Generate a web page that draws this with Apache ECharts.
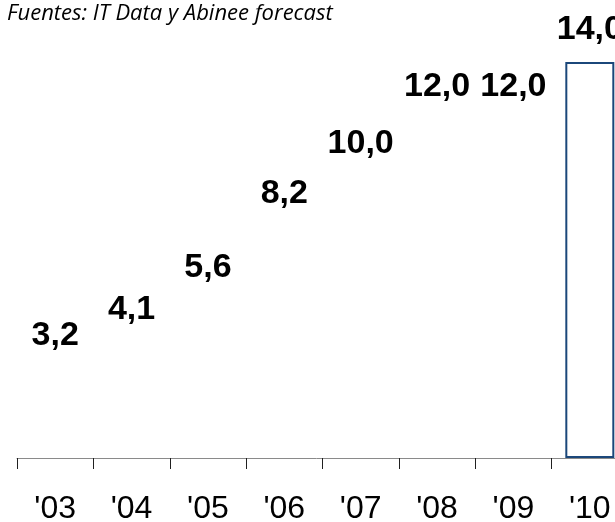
<!DOCTYPE html>
<html><head><meta charset="utf-8">
<script src="https://cdn.jsdelivr.net/npm/echarts@6/dist/echarts.min.js"></script>
<style>html,body{margin:0;padding:0;background:#fff}#c{width:615px;height:522px}</style>
</head><body><div id="c"></div>
<script>
var categories = ["'03","'04","'05","'06","'07","'08","'09","'10"];
var values = [3.2, 4.1, 5.6, 8.2, 10.0, 12.0, 12.0, 14.0];
var outlined = [false, false, false, false, false, false, false, true];
var subtitle = "Fuentes: IT Data y Abinee forecast";

var chart = echarts.init(document.getElementById('c'), null, {renderer: 'canvas'});
chart.setOption({
  animation: false,
  backgroundColor: '#fff',
  title: {
    text: subtitle, left: 7, top: 3, padding: 0,
    textStyle: {fontFamily: 'Open Sans', fontStyle: 'italic', fontWeight: 'normal', fontSize: 22, color: '#000'}
  },
  grid: {left: 17, top: 62, width: 611, height: 396, outerBoundsMode: 'none', containLabel: false},
  xAxis: {
    type: 'category', data: categories,
    axisLine: {show: true, lineStyle: {color: '#8a8a8a', width: 1}},
    axisTick: {show: true, length: 11, lineStyle: {color: '#202020', width: 1}},
    axisLabel: {show: true, margin: 35, fontFamily: 'Liberation Sans', fontSize: 32, color: '#000'}
  },
  yAxis: {type: 'value', min: 0, max: 14, show: false, splitLine: {show: false}},
  series: [{
    type: 'bar',
    barWidth: 49,
    data: values.map(function (v, i) {
      return {
        value: v,
        itemStyle: outlined[i]
          ? {color: '#fff', borderColor: '#1B477A', borderWidth: 2}
          : {color: '#fff', borderWidth: 0}
      };
    }),
    label: {
      show: true, position: 'top', distance: 15,
      fontFamily: 'Liberation Sans', fontWeight: 'bold', fontSize: 34, color: '#000',
      formatter: function (p) { return p.value.toFixed(1).replace('.', ','); }
    }
  }]
});
</script></body></html>
